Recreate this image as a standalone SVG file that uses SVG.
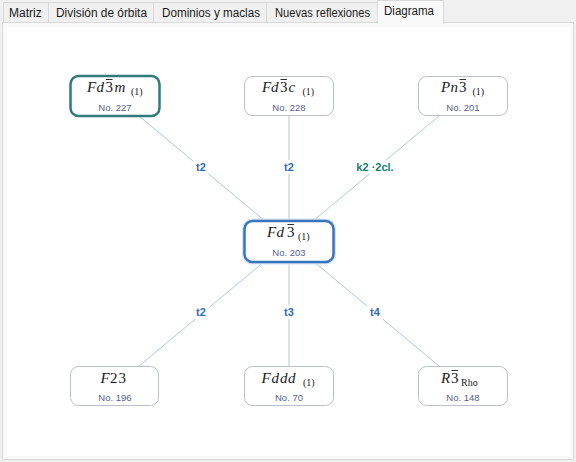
<svg xmlns="http://www.w3.org/2000/svg" width="576" height="462" viewBox="0 0 576 462">
<style>
.tab{fill:#f0f0f0;stroke:#d9d9d9;stroke-width:1}
.tabt{font-family:"Liberation Sans",Arial,sans-serif;font-size:12px;fill:#1a1a1a}
.box{fill:#ffffff;stroke:#b9c0cc;stroke-width:1}
.ti{font-family:"Liberation Serif","Times New Roman",serif;font-size:15px;font-style:italic;fill:#1a1a1a}
.tn{font-style:normal}
.sub{font-style:normal;font-size:10px}
.no{font-family:"Liberation Sans",Arial,sans-serif;font-size:9.5px;fill:#56628a;text-anchor:middle}
.bar{stroke:#1a1a1a;stroke-width:0.9}
.edge{stroke:#abc6e4;stroke-width:1}
.edgek{stroke:#a3d6cb;stroke-width:1}
.lbl{font-family:"Liberation Sans",Arial,sans-serif;font-size:11px;font-weight:bold;fill:#2f6db3;text-anchor:middle}
.lblk{fill:#15806c}
</style>
<rect x="0" y="0" width="576" height="462" fill="#f0f0f0"/>
<rect x="2.5" y="22.5" width="571" height="437" fill="#f9f9f9" stroke="#dadada"/>
<rect x="7" y="27" width="563" height="429" fill="#ffffff"/>
<g id="tabs">
<rect class="tab" x="3.5" y="2.5" width="45" height="20"/>
<rect class="tab" x="48.5" y="2.5" width="105" height="20"/>
<rect class="tab" x="153.5" y="2.5" width="113" height="20"/>
<rect class="tab" x="266.5" y="2.5" width="111" height="20"/>
<rect x="377.5" y="0.5" width="66" height="23" fill="#f9f9f9" stroke="#dadada"/>
<rect x="378" y="22" width="65" height="2" fill="#f9f9f9"/>
<text class="tabt" x="9" y="17" textLength="32.7" lengthAdjust="spacingAndGlyphs">Matriz</text>
<text class="tabt" x="56" y="17" textLength="91" lengthAdjust="spacingAndGlyphs">División de órbita</text>
<text class="tabt" x="162" y="17" textLength="98" lengthAdjust="spacingAndGlyphs">Dominios y maclas</text>
<text class="tabt" x="275" y="17" textLength="95" lengthAdjust="spacingAndGlyphs">Nuevas reflexiones</text>
<text class="tabt" x="384" y="15" textLength="50" lengthAdjust="spacingAndGlyphs">Diagrama</text>
</g>
<g id="connectors">
<line class="edge" x1="289" y1="241" x2="115" y2="96"/>
<line class="edge" x1="289" y1="241" x2="289" y2="96"/>
<line class="edgek" x1="289" y1="241" x2="463" y2="96"/>
<line class="edge" x1="289" y1="241" x2="115" y2="386"/>
<line class="edge" x1="289" y1="241" x2="289" y2="386"/>
<line class="edge" x1="289" y1="241" x2="463" y2="386"/>
<rect x="193" y="160" width="16" height="14" fill="#fff"/>
<text class="lbl" x="201" y="171">t2</text>
<rect x="281" y="160" width="16" height="14" fill="#fff"/>
<text class="lbl" x="289" y="171">t2</text>
<rect x="356" y="160" width="38" height="14" fill="#fff"/>
<text class="lbl lblk" x="375" y="171">k2 ·2cl.</text>
<rect x="193" y="305" width="16" height="14" fill="#fff"/>
<text class="lbl" x="201" y="316">t2</text>
<rect x="281" y="305" width="16" height="14" fill="#fff"/>
<text class="lbl" x="289" y="316">t3</text>
<rect x="367" y="305" width="16" height="14" fill="#fff"/>
<text class="lbl" x="375" y="316">t4</text>
</g>
<g id="n227">
<rect x="70.5" y="76" width="89" height="40" rx="8" fill="#fff" stroke="#2e7b7a" stroke-width="2.5"/>
<text class="ti" y="92"><tspan x="87">F</tspan><tspan x="96.5">d</tspan><tspan class="tn" x="105.5">3</tspan><tspan x="114.5">m</tspan><tspan class="sub" x="131" y="94.5">(1)</tspan></text>
<line class="bar" x1="106" y1="79.5" x2="112.5" y2="79.5"/>
<text class="no" x="115" y="110.5">No. 227</text>
</g>
<g id="n228">
<rect class="box" x="244.5" y="76.5" width="89" height="39" rx="8"/>
<text class="ti" y="92"><tspan x="262">F</tspan><tspan x="271">d</tspan><tspan class="tn" x="280">3</tspan><tspan x="288.5">c</tspan><tspan class="sub" x="302.5" y="94.5">(1)</tspan></text>
<line class="bar" x1="280.5" y1="79.5" x2="287" y2="79.5"/>
<text class="no" x="289" y="110.5">No. 228</text>
</g>
<g id="n201">
<rect class="box" x="418.5" y="76.5" width="89" height="39" rx="8"/>
<text class="ti" y="92"><tspan x="441">P</tspan><tspan x="450.5">n</tspan><tspan class="tn" x="459">3</tspan><tspan class="sub" x="472.5" y="94.5">(1)</tspan></text>
<line class="bar" x1="459.5" y1="79.5" x2="466" y2="79.5"/>
<text class="no" x="463" y="110.5">No. 201</text>
</g>
<g id="n203">
<rect x="244.5" y="221" width="89" height="41" rx="8" fill="none" stroke="#d3e3f5" stroke-width="5"/>
<rect x="244.5" y="221" width="89" height="41" rx="8" fill="#fff" stroke="#3a74ba" stroke-width="2.5"/>
<text class="ti" y="237"><tspan x="267">F</tspan><tspan x="276.5">d</tspan><tspan class="tn" x="287">3</tspan><tspan class="sub" x="298" y="239.5">(1)</tspan></text>
<line class="bar" x1="287.5" y1="224.5" x2="294" y2="224.5"/>
<text class="no" x="289" y="255.5">No. 203</text>
</g>
<g id="n196">
<rect class="box" x="70.5" y="366.5" width="88" height="39" rx="8"/>
<text class="ti" y="383"><tspan x="100.5">F</tspan><tspan class="tn" x="110">2</tspan><tspan class="tn" x="118.5">3</tspan></text>
<text class="no" x="115" y="400.5">No. 196</text>
</g>
<g id="n70">
<rect class="box" x="244.5" y="366.5" width="89" height="39" rx="8"/>
<text class="ti" y="383"><tspan x="261.5">F</tspan><tspan x="271.5">d</tspan><tspan x="280">d</tspan><tspan x="288">d</tspan><tspan class="sub" x="303" y="385.5">(1)</tspan></text>
<text class="no" x="289" y="400.5">No. 70</text>
</g>
<g id="n148">
<rect class="box" x="418.5" y="366.5" width="89" height="39" rx="8"/>
<text class="ti" y="383"><tspan x="441">R</tspan><tspan class="tn" x="451">3</tspan><tspan class="sub" x="461" y="385.5">Rho</tspan></text>
<line class="bar" x1="451.5" y1="370.5" x2="458" y2="370.5"/>
<text class="no" x="463" y="400.5">No. 148</text>
</g>
</svg>
